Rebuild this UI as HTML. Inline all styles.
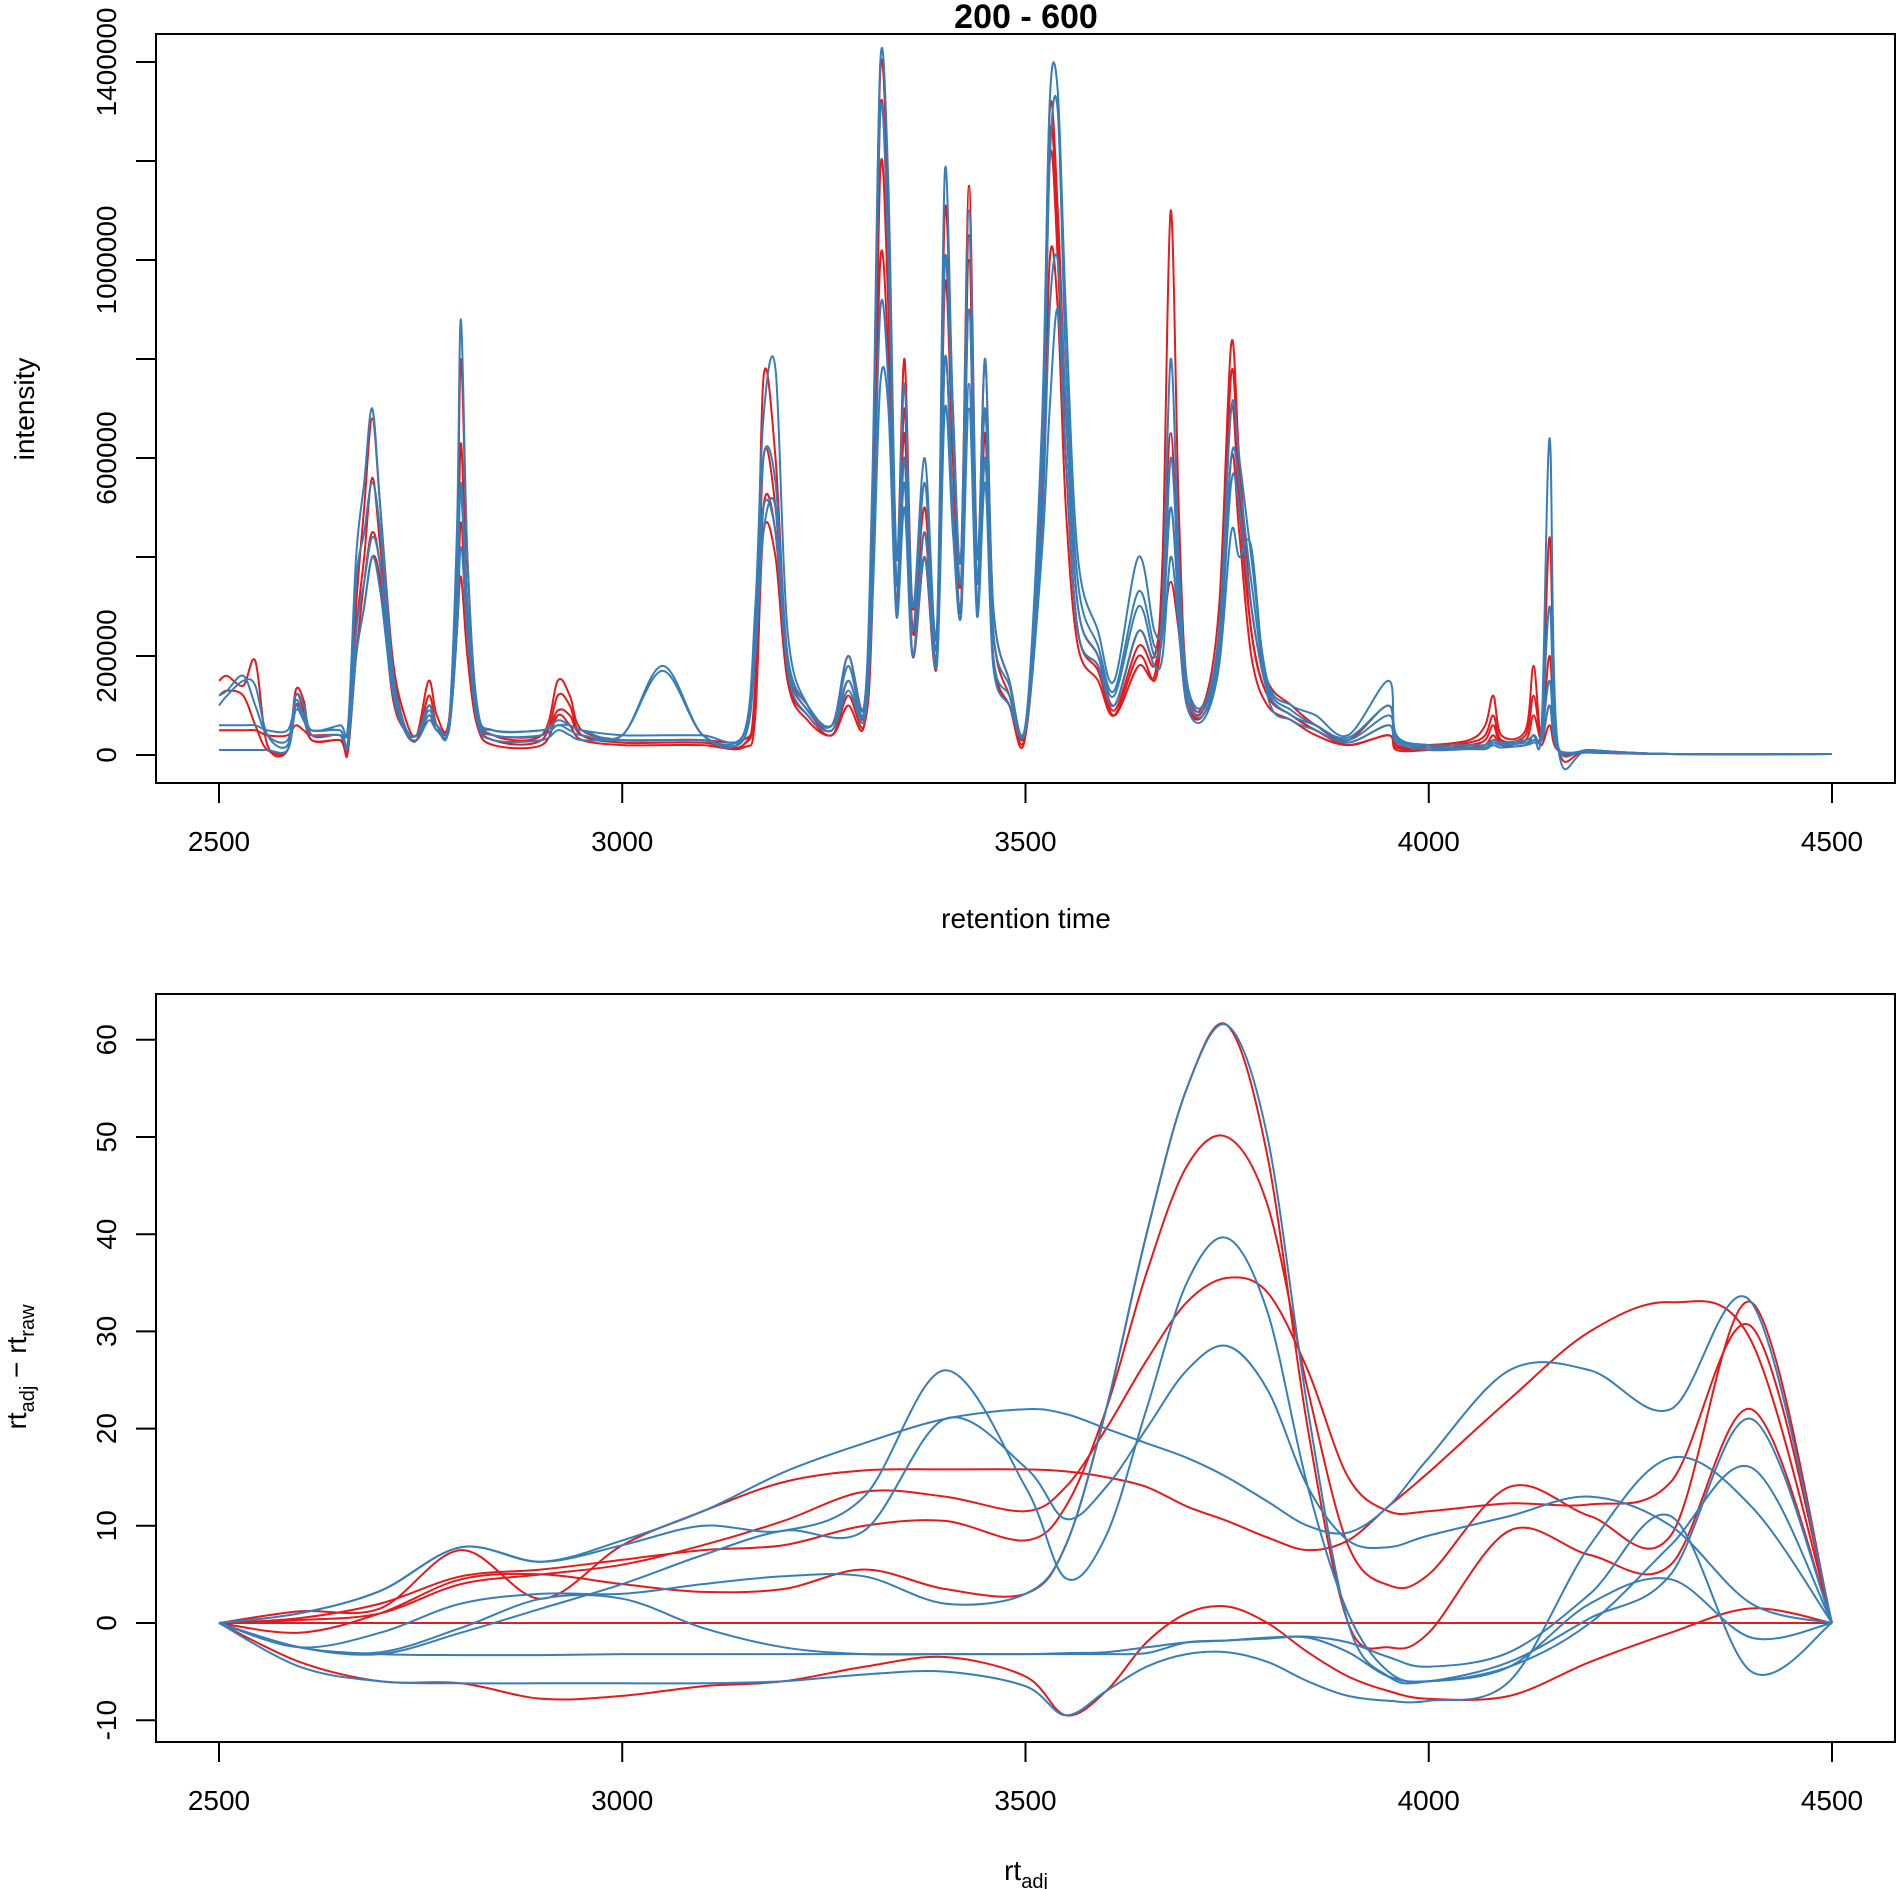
<!DOCTYPE html>
<html><head><meta charset="utf-8"><style>
html,body{margin:0;padding:0;background:#fff;}
svg{display:block;font-family:"Liberation Sans",Arial,sans-serif;}
</style></head><body>
<svg id="chart" width="1897" height="1889" viewBox="0 0 1897 1889" xmlns="http://www.w3.org/2000/svg">
<g id="top"></g>
<g id="bot"></g>
</svg>
<script>
// ---------- top chart data (intensity in thousands) ----------
const rtGrid = [2500,2510,2530,2545,2560,2585,2595,2605,2615,2650,2660,2670,2680,2690,2700,2715,2730,2745,2760,2770,2785,2795,2800,2808,2820,2840,2900,2920,2935,2950,3000,3050,3100,3150,3165,3175,3190,3205,3230,3260,3280,3300,3310,3320,3330,3340,3350,3360,3375,3390,3400,3410,3420,3430,3440,3450,3460,3480,3500,3520,3530,3540,3550,3565,3590,3610,3640,3660,3670,3680,3690,3700,3720,3740,3755,3765,3780,3800,3830,3860,3900,3950,3960,4000,4050,4070,4080,4090,4120,4130,4140,4150,4160,4200,4300,4500];
const redInt1 = [150,160,140,190,20,10,130,110,40,40,10,300,500,680,500,200,80,40,150,80,70,400,800,400,100,40,40,150,120,50,30,30,30,20,150,760,600,200,100,60,200,100,500,1380,1100,400,800,300,500,250,1100,700,400,1150,400,800,300,150,60,600,1300,1100,700,300,200,100,250,200,400,1100,500,150,100,300,830,600,300,150,100,60,30,100,20,20,30,60,120,40,50,180,50,440,20,10,2,2];
const redInt2 = [120,130,120,60,10,10,100,80,30,30,10,250,400,560,420,180,60,30,120,60,60,300,630,300,80,30,30,120,100,40,25,25,25,20,120,600,500,180,90,50,150,80,400,1300,1000,350,650,250,450,200,950,600,350,1000,350,700,250,120,50,500,1200,1000,600,250,180,90,220,180,300,500,300,120,90,250,700,500,250,120,80,50,25,60,20,15,25,40,80,30,40,120,40,200,15,8,2,2];
const redInt3 = [50,50,50,50,40,40,60,50,40,40,20,200,350,450,380,150,50,30,80,50,50,250,470,250,70,40,40,90,80,40,30,30,30,30,100,450,400,150,80,40,120,60,300,1180,900,300,600,200,400,180,800,500,300,900,300,600,200,100,40,450,1000,900,500,220,150,80,200,150,250,350,250,100,80,200,600,450,200,100,70,40,20,40,15,10,20,30,60,25,30,80,30,100,10,5,2,2];
const redInt4 = [10,10,10,10,10,10,120,90,30,30,10,200,300,400,350,120,50,30,100,60,60,250,360,200,60,20,20,80,60,30,20,20,20,15,80,500,450,150,70,40,100,60,350,1000,800,300,700,250,400,200,1000,600,300,1050,300,650,200,100,40,550,1250,1050,600,250,170,80,180,160,350,650,350,120,80,220,770,550,250,120,80,50,20,40,10,10,15,20,40,20,20,40,20,60,10,5,2,2];
const blueInt1 = [100,120,150,140,40,20,120,100,50,60,60,400,550,700,500,180,60,40,100,60,60,450,880,400,100,50,50,60,60,50,40,180,40,40,300,680,780,250,100,60,200,100,550,1400,1150,400,750,300,600,250,1180,700,400,1100,400,800,300,150,60,650,1320,1340,900,400,250,150,400,250,300,800,400,150,100,250,700,600,400,150,100,80,40,150,40,20,20,20,30,25,30,40,60,640,20,10,2,2];
const blueInt2 = [120,130,160,100,40,30,110,80,50,50,30,350,450,550,450,170,60,40,90,60,60,400,530,300,80,50,50,70,60,50,40,40,40,40,250,600,550,200,100,60,180,90,500,1300,1000,350,600,250,550,220,1000,650,350,900,350,700,250,140,60,550,1200,1300,800,350,220,130,330,220,250,600,350,140,90,220,600,550,350,140,90,60,35,100,35,20,20,20,30,25,30,40,50,300,20,10,2,2];
const blueInt3 = [60,60,60,60,50,50,100,70,50,50,20,250,350,440,380,150,50,40,80,60,60,300,550,300,80,40,40,60,50,40,40,170,40,40,220,500,450,180,90,60,150,80,350,900,750,300,550,200,450,200,800,500,300,750,300,600,200,120,50,450,900,1000,700,300,200,120,300,200,250,500,300,120,80,200,550,500,300,130,80,60,30,80,30,15,15,15,25,20,25,30,40,150,15,8,2,2];
const blueInt4 = [10,10,10,10,10,10,90,70,40,40,20,200,300,400,330,130,50,30,70,50,50,250,420,250,70,30,30,50,40,30,30,30,30,30,200,450,500,170,80,50,130,70,300,750,700,280,500,200,400,180,700,450,280,700,280,550,180,100,50,400,700,900,600,250,180,100,250,180,200,400,260,100,70,180,450,400,420,120,70,50,25,60,25,10,12,12,20,15,20,25,30,100,12,6,2,2];
const topRed = [redInt1, redInt2, redInt3, redInt4];
const topBlue = [blueInt1, blueInt2, blueInt3, blueInt4];
const xTicks = [2500,3000,3500,4000,4500];
const topYTicks = [0,200000,400000,600000,800000,1000000,1200000,1400000];
const topYLabels = ["0","200000","","600000","","1000000","","1400000"];

// ---------- bottom chart data ----------
const rtAdj = [2500,2600,2700,2800,2900,3000,3100,3200,3300,3400,3500,3550,3600,3650,3700,3750,3800,3850,3900,3950,4000,4100,4200,4300,4400,4500];
const devR0 = [0,0,0,0,0,0,0,0,0,0,0,0,0,0,0,0,0,0,0,0,0,0,0,0,0,0];
const devRA = [0,-1,1,4.5,5,4,3.2,3.5,5.5,3.5,3,8,22,40,55,61.5,48,20,0,-2.5,-1,9.5,7,6,22,0];
const devRB = [0,0.5,2,4.8,5.5,6.5,7.5,8,10,10.5,8.5,12,22,36,47,50,43,24,8,3.9,5,14,11,9,33,0];
const devRC = [0,0.3,1,4,5,6,8,10.5,13.5,13,11.5,14,20,27,33,35.5,34,26,15,11.5,11.5,12.3,12.2,14.5,30.5,0];
const devRD = [0,1.2,1.5,7.5,2.5,8,11.5,14.5,15.7,15.8,15.8,15.6,15,14,12,10.5,8.8,7.5,8.5,12,15.5,23,30,33,29,0];
const devRE = [0,-4,-6,-6.2,-7.8,-7.5,-6.5,-6,-4.5,-3.5,-5.5,-9.5,-7,-2,1,1.7,0,-3,-5.5,-7,-7.8,-7.5,-4,-1,1.5,0];
const devBA = [0,-2.5,-1,2,3,3,4,4.8,4.8,2,3,8,22,40,55,61.5,50,22,0,-5.5,-6,-4,0.5,5,21,0];
const devBB = [0,1,3.3,7.8,6.3,8,10,9.5,13,26,14,4.6,9,22,35,39.6,32,14,1,-5,-6,-4.5,0,8,16,0];
const devBC = [0,1,3.3,7.8,6.3,8.5,11.5,15.5,18.5,21,22,21.5,20,18.5,17,15,12.5,10,9.3,12,17,26,26,22,33,0];
const devBD = [0,-2.5,-3.2,-1,1.5,4,7,9.5,9.5,21,16,10.7,14,20,26,28.5,24,14,8.5,7.8,9,11,13,10,2,0];
const devBE = [0,-4.5,-6,-6.2,-6.2,-6.2,-6.2,-6,-5.3,-5,-6.5,-9.5,-7,-4.5,-3.2,-3,-4,-6,-7.5,-8,-8,-6,8,17,12,0];
const devBF = [0,-2.5,-3.2,-3.3,-3.3,-3.2,-3.2,-3.2,-3.2,-3.2,-3.2,-3.1,-3,-2.5,-2,-1.8,-1.5,-1.4,-2,-3.5,-4.5,-3,3,11,-5,0];
const devBG = [0,-2.5,-3,-0.5,2.5,2.5,-0.5,-2.5,-3.2,-3.2,-3.2,-3.2,-3.2,-3.1,-2,-1.8,-1.6,-1.5,-3,-5.5,-6,-4.5,2,4.5,-1.5,0];
const botRed = [devR0, devRA, devRB, devRC, devRD, devRE];
const botBlue = [devBA, devBB, devBC, devBD, devBE, devBF, devBG];
const botYTicks = [-10,0,10,20,30,40,50,60];

const NS = "http://www.w3.org/2000/svg";
const RED = "#E41A1C", BLUE = "#377EB8";
function mk(tag, attrs, parent){const e=document.createElementNS(NS,tag);for(const k in attrs)e.setAttribute(k,attrs[k]);parent.appendChild(e);return e;}

const X0 = 219, X1 = 1832;
function xScale(v){return X0 + (v-2500)/2000*(X1-X0);}
function yTop(v){return 755 - v/1400000*(755-62);}
function yBot(v){return 1623 - v*9.72;}

function smoothPath(pts){
  let d='M'+pts[0][0].toFixed(1)+','+pts[0][1].toFixed(1);
  for(let i=0;i<pts.length-1;i++){
    const p0=pts[Math.max(0,i-1)],p1=pts[i],p2=pts[i+1],p3=pts[Math.min(pts.length-1,i+2)];
    const c1=[p1[0]+(p2[0]-p0[0])/6,p1[1]+(p2[1]-p0[1])/6];
    const c2=[p2[0]-(p3[0]-p1[0])/6,p2[1]-(p3[1]-p1[1])/6];
    d+=`C${c1[0].toFixed(1)},${c1[1].toFixed(1)} ${c2[0].toFixed(1)},${c2[1].toFixed(1)} ${p2[0].toFixed(1)},${p2[1].toFixed(1)}`;
  }
  return d;
}

function axes(g, box, yTicks, yLabels, yFn, xLabY, prefix){
  const r = mk('rect',{x:box[0],y:box[1],width:box[2]-box[0],height:box[3]-box[1],fill:'none',stroke:'#000','stroke-width':2},g);
  
  
  xTicks.forEach(t=>{
    const x=xScale(t);
    const l=mk('line',{x1:x,y1:box[3],x2:x,y2:box[3]+20,stroke:'#000','stroke-width':2},g);
    
    
    const tx=mk('text',{x:x,y:xLabY,'text-anchor':'middle','font-size':28},g);
    tx.textContent=t;
    
    
  });
  yTicks.forEach((t,i)=>{
    const y=yFn(t);
    const l=mk('line',{x1:box[0]-20,y1:y,x2:box[0],y2:y,stroke:'#000','stroke-width':2},g);
    
    
    const lab = yLabels ? yLabels[i] : String(t);
    if(lab){
      const tx=mk('text',{x:0,y:0,'text-anchor':'middle','font-size':28,transform:`translate(116,${y}) rotate(-90)`},g);
      tx.textContent=lab;
      
      
    }
  });
}

// ---------- top panel ----------
const gt=document.getElementById('top');
axes(gt,[156,34,1895,783],topYTicks,topYLabels,yTop,851,'top');
function drawTop(arr,color){
  const n=Math.min(arr.length,rtGrid.length);
  const pts=[];
  for(let i=0;i<n;i++){pts.push([xScale(rtGrid[i]),yTop(arr[i]*1000)]);}
  const p=mk('path',{d:smoothPath(pts),fill:'none',stroke:color,'stroke-width':2,'stroke-linejoin':'round'},gt);
  
  
}
topRed.forEach(a=>drawTop(a,RED));
topBlue.forEach(a=>drawTop(a,BLUE));
let t1=mk('text',{x:1026,y:28,'text-anchor':'middle','font-size':34,'font-weight':'bold'},gt);t1.textContent='200 - 600';


let t2=mk('text',{x:1026,y:928,'text-anchor':'middle','font-size':28},gt);t2.textContent='retention time';


let t3=mk('text',{x:0,y:0,'text-anchor':'middle','font-size':28,transform:'translate(34,409) rotate(-90)'},gt);t3.textContent='intensity';



// ---------- bottom panel ----------
const gb=document.getElementById('bot');
axes(gb,[156,994,1895,1742],botYTicks,null,yBot,1810,'bottom');
function drawSmooth(arr,color){
  const pts=arr.map((v,i)=>[xScale(rtAdj[i]),yBot(v)]);
  const p=mk('path',{d:smoothPath(pts),fill:'none',stroke:color,'stroke-width':2},gb);
  
  
}
botRed.forEach(a=>drawSmooth(a,RED));
botBlue.forEach(a=>drawSmooth(a,BLUE));
let t4=mk('text',{x:1026,y:1880,'text-anchor':'middle','font-size':28},gb);
t4.innerHTML='rt<tspan font-size="20" dy="8">adj</tspan>';


let t5=mk('text',{x:0,y:0,'text-anchor':'middle','font-size':28,transform:'translate(26,1367) rotate(-90)'},gb);
t5.innerHTML='rt<tspan font-size="20" dy="8">adj</tspan><tspan dy="-8"> \u2212 rt</tspan><tspan font-size="20" dy="8">raw</tspan>';


</script>
</body></html>
